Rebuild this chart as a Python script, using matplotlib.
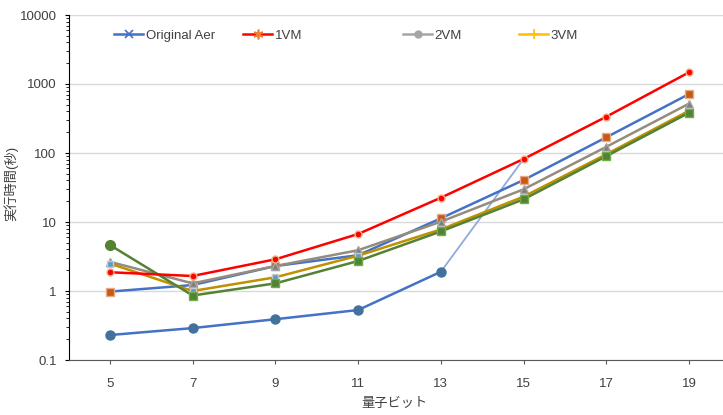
import numpy as np
import matplotlib.pyplot as plt
from matplotlib.lines import Line2D

plt.rcParams['font.family'] = ['Liberation Sans', 'Noto Sans CJK JP']

# Data
qubits = [5, 7, 9, 11, 13, 15, 17, 19]
blue_sq = [0.98, 1.22, 2.3, 3.3, 11.3, 40.6, 169, 716]
gray_vm = [2.65, 1.29, 2.3, 3.9, 10.1, 29.8, 123, 520]
gold_vm = [2.5, 1.0, 1.58, 3.25, 7.8, 23.3, 96, 410]
green_vm = [4.64, 0.86, 1.29, 2.72, 7.3, 21.3, 90, 384]
red_vm = [1.87, 1.65, 2.88, 6.7, 22.5, 82, 336, 1480]
low_blue = [0.23, 0.29, 0.39, 0.53, 1.9]
jump_x = [13, 15]
jump_y = [1.9, 82]
legend_names = ['Original Aer', '1VM', '2VM', '3VM']

pos = np.arange(len(qubits))
idx = {q: i for i, q in enumerate(qubits)}

fig = plt.figure(figsize=(7.23, 4.15), dpi=100)
ax = fig.add_axes([68.5 / 723, 1 - 360 / 415, (730.5 - 68.5) / 723, 345 / 415])

# lines
ax.plot(pos, blue_sq, color='#4472C4', lw=1.8, marker='s', ms=6,
        mfc='#C55A11', mec='#E8A98A', zorder=3)
ax.plot(pos, gray_vm, color='#948C7C', lw=1.8, marker='^', ms=6,
        mfc='#7F7F7F', mec='#A5A5A5', zorder=4)
ax.plot(pos, gold_vm, color='#BF9000', lw=1.8, marker='s', ms=5,
        mfc='#5B9BD5', mec='#C9C9C9', zorder=5)
ax.plot(pos, green_vm, color='#548235', lw=1.8, marker='s', ms=6,
        mfc='#548235', mec='#70AD47', markevery=range(1, 8), zorder=6)
ax.plot(pos[:1], green_vm[:1], ls='none', marker='o', ms=7,
        color='#548235', zorder=6)
ax.plot(pos, red_vm, color='#FF0000', lw=1.8, marker='o', ms=5,
        mfc='#FF0000', mec='#F4B183', zorder=7)
ax.plot([idx[q] for q in jump_x], jump_y, color='#8FAADC', lw=1.3, zorder=2)
ax.plot(pos[:len(low_blue)], low_blue, color='#4472C4', lw=1.8, marker='o',
        ms=6.5, mfc='#41719C', mec='#41719C', zorder=8)

ax.set_yscale('log')
ax.set_ylim(0.1, 10000)
ax.set_xlim(-0.5, len(qubits) - 0.5)
ax.set_xticks(pos)
ax.set_xticklabels([str(q) for q in qubits])
ax.set_yticks([0.1, 1, 10, 100, 1000, 10000])
ax.set_yticklabels(['0.1', '1', '10', '100', '1000', '10000'])
ax.tick_params(axis='both', labelsize=9.5, colors='#404040', direction='out')
ax.tick_params(axis='y', which='major', length=3, color='black', pad=5.5)
ax.tick_params(axis='y', which='minor', length=2.5, color='black')
ax.tick_params(axis='x', length=3, color='#595959', pad=10)
ax.grid(axis='y', which='major', color='#D9D9D9', lw=1)
ax.set_axisbelow(True)
for s in ['top', 'right']:
    ax.spines[s].set_visible(False)
ax.spines['left'].set_color('black')
ax.spines['bottom'].set_color('#595959')

ax.set_xlabel('量子ビット', fontsize=9.5, color='#404040')
ax.xaxis.set_label_coords((395 - 68.5) / 662, -(398 - 360) / 345)
ax.set_ylabel('実行時間(秒)', fontsize=9.5, color='#404040')
ax.yaxis.set_label_coords(-(68.5 - 18) / 662, (360 - 183) / 345)

# legend entries placed one by one
handles = [
    Line2D([], [], color='#4472C4', lw=1.8, marker='x', ms=6, mew=1.2),
    Line2D([], [], color='#FF0000', lw=1.8, marker=(6, 2, 0), ms=7,
           mec='#ED7D31', mew=1.2),
    Line2D([], [], color='#A5A5A5', lw=1.8, marker='o', ms=5),
    Line2D([], [], color='#FFC000', lw=1.8, marker='+', ms=7, mew=1.2),
]
starts = [114, 243, 403, 519]
for h, name, x0 in zip(handles, legend_names, starts):
    fig.legend([h], [name], loc='center left',
               bbox_to_anchor=(x0 / 723, 1 - 36 / 415), frameon=False,
               fontsize=9.5, handlelength=2.2, handletextpad=0.2,
               borderpad=0, borderaxespad=0, labelcolor='#404040')

fig.savefig('out.png', dpi=100)
